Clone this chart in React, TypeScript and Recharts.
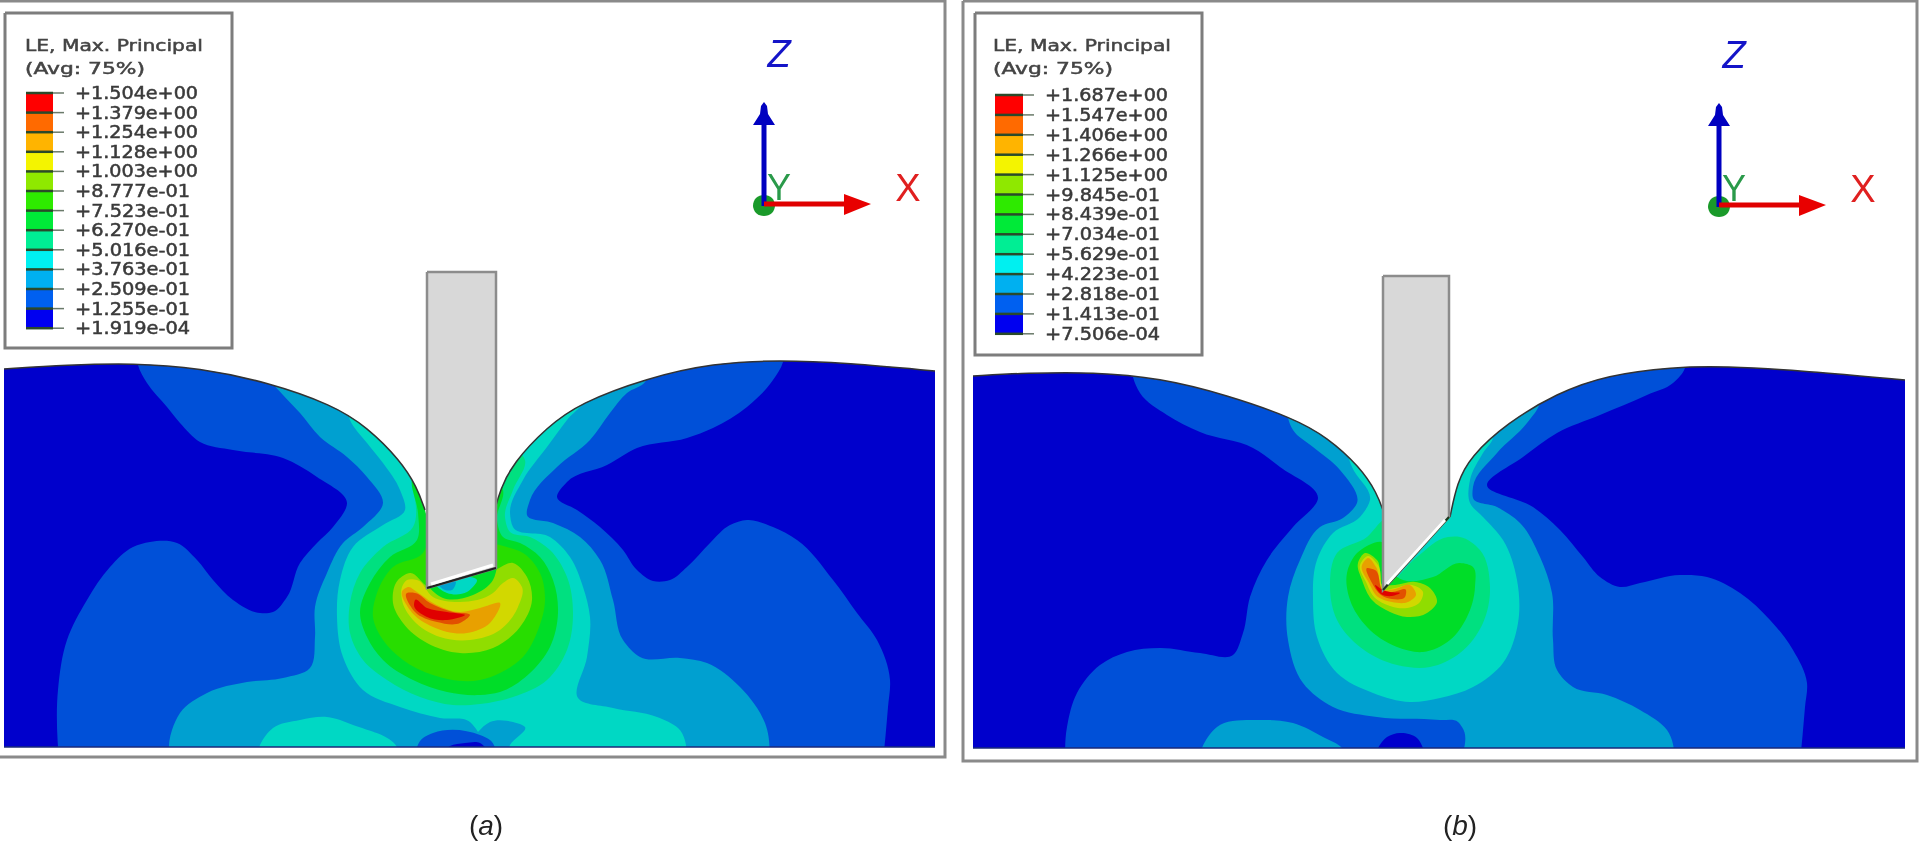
import React from "react";
import { ScatterChart, Scatter, XAxis, YAxis } from "recharts";

type Pt = number[];

// contour colours, lowest to highest strain
const C1 = "#0050d8";
const C2 = "#00a0d0";
const C3 = "#00d8c4";
const C4 = "#00e080";
const C5 = "#00dd28";
const C6 = "#28dd00";
const C7 = "#90dd00";
const C8 = "#d2d800";
const C9 = "#e8a000";
const C10 = "#e25000";
const C11 = "#e00000";
const BASE = "#0000cc";

const legendColors = ["#ff0000", "#ff6a00", "#ffb400", "#f4f400", "#8fe800", "#2eea00", "#00ea38", "#00ee94", "#00f0f0", "#00b0f0", "#0060f0", "#0000f0"];
const legendValuesA = ["+1.504e+00", "+1.379e+00", "+1.254e+00", "+1.128e+00", "+1.003e+00", "+8.777e-01", "+7.523e-01", "+6.270e-01", "+5.016e-01", "+3.763e-01", "+2.509e-01", "+1.255e-01", "+1.919e-04"];
const legendValuesB = ["+1.687e+00", "+1.547e+00", "+1.406e+00", "+1.266e+00", "+1.125e+00", "+9.845e-01", "+8.439e-01", "+7.034e-01", "+5.629e-01", "+4.223e-01", "+2.818e-01", "+1.413e-01", "+7.506e-04"];

// repeated point keeps a sharp corner in a basis curve
const c = (x: number, y: number): Pt[] => [[x, y], [x, y], [x, y]];

// ---- panel (a) ----
const surfaceLeftA: Pt[] = [[4, 369], [4, 369], [67, 365], [133, 363], [200, 368], [267, 382], [333, 405], [367, 427], [400, 460], [417, 487], [425, 510], [425, 510]];
const surfaceRightA: Pt[] = [[494, 513], [494, 513], [500, 490], [513, 463], [547, 427], [580, 403], [647, 378], [713, 363], [780, 360], [847, 363], [935, 371], [935, 371]];

const a1: Pt[] = [[138, 340], [138, 365], [147, 383], [167, 407], [180, 423], [200, 442], [233, 450], [283, 458], [317, 477], [347, 503], [333, 527], [317, 543], [300, 563], [287, 597], [273, 612], [260, 613], [233, 600], [213, 580], [197, 560], [177, 543], [150, 542], [133, 547], [110, 567], [87, 600], [67, 640], [58, 690], [63, 790], [878, 790], [888, 707], [890, 680], [877, 640], [857, 613], [833, 580], [797, 540], [773, 527], [747, 520], [730, 525], [710, 543], [687, 567], [670, 580], [653, 581], [637, 570], [623, 550], [600, 527], [577, 510], [557, 497], [567, 482], [607, 465], [637, 448], [687, 438], [713, 428], [747, 407], [773, 380], [783, 362], [783, 340]];
const a2: Pt[] = [[273, 350], [273, 383], [283, 395], [300, 413], [320, 437], [347, 457], [367, 477], [383, 503], [363, 527], [343, 543], [327, 573], [315, 607], [315, 637], [310, 668], [283, 678], [247, 682], [207, 693], [180, 713], [172, 730], [172, 790], [767, 790], [765, 723], [740, 687], [707, 663], [680, 658], [640, 657], [623, 640], [613, 600], [600, 560], [580, 537], [553, 523], [527, 515], [530, 500], [557, 467], [590, 440], [610, 413], [627, 393], [645, 382], [645, 350]];
const a3: Pt[] = [[345, 400], [350, 420], [367, 443], [383, 463], [400, 490], [405, 510], [383, 525], [353, 547], [340, 580], [337, 617], [343, 657], [363, 690], [400, 707], [440, 718], [470, 722], [478, 732], [470, 790], [683, 790], [678, 728], [657, 717], [613, 708], [578, 698], [587, 657], [590, 617], [583, 587], [570, 557], [550, 537], [513, 527], [510, 513], [523, 480], [547, 447], [567, 420], [590, 393], [590, 370]];
const a3Island: Pt[] = [[260, 790], [260, 745], [273, 728], [300, 720], [327, 717], [353, 725], [397, 747], [397, 790]];
const a4: Pt[] = [[400, 450], [413, 487], [413, 527], [383, 547], [360, 573], [350, 603], [350, 633], [363, 660], [387, 680], [420, 697], [453, 705], [480, 704], [513, 697], [547, 680], [567, 650], [573, 613], [567, 577], [550, 550], [530, 537], [510, 532], [505, 517], [513, 490], [525, 460], [500, 440]];
const a5: Pt[] = [[412, 480], [418, 513], [417, 540], [390, 557], [370, 583], [360, 613], [367, 637], [383, 660], [413, 680], [447, 692], [480, 695], [500, 692], [530, 673], [550, 647], [558, 613], [553, 580], [540, 557], [520, 543], [503, 537], [497, 520], [503, 490], [490, 470]];
const a6: Pt[] = [[423, 553], [393, 567], [377, 593], [373, 617], [383, 640], [403, 660], [433, 675], [480, 680], [500, 673], [523, 657], [538, 630], [545, 600], [540, 573], [523, 553], [507, 547], [470, 540], [430, 540]];
const a7: Pt[] = [[398, 580], [393, 603], [403, 623], [427, 643], [460, 653], [493, 648], [520, 627], [532, 600], [527, 577], [513, 563], [495, 570], [428, 587], [410, 573]];
const a8: Pt[] = [[402, 587], [402, 600], [413, 620], [440, 637], [470, 640], [500, 630], [518, 607], [522, 587], [513, 578], [503, 583], [493, 593], [460, 602], [433, 597], [417, 580], [407, 580]];
const a9: Pt[] = [[403, 590], [410, 610], [433, 627], [467, 633], [490, 623], [500, 603], [480, 608], [460, 612], [433, 603], [417, 592], [408, 587]];
const a10: Pt[] = [[407, 593], [415, 612], [437, 622], [460, 623], [470, 615], [453, 612], [430, 603], [415, 593]];
const a11: Pt[] = [[414, 605], [427, 617], [447, 620], [465, 615], [447, 612], [427, 608], [415, 600]];
const aTip5: Pt[] = [[428, 586], [443, 598], [473, 595], [493, 580], [497, 566]];
const aTip3: Pt[] = [[436, 585], [447, 593], [467, 592], [477, 580], [460, 576]];
const aTip2: Pt[] = [[438, 584], [445, 590], [452, 590], [456, 582]];
const aIsle2: Pt[] = [[478, 732], [490, 722], [513, 722], [525, 727], [510, 745], [507, 790], [470, 790]];
const aIsle1: Pt[] = [[423, 790], [423, 738], [433, 733], [480, 735], [490, 740], [487, 790]];
const aIsle0: Pt[] = [[443, 790], [450, 746], [465, 743], [480, 743], [485, 747], [485, 790]];
const indenterA: Pt[] = [[427, 272], [496, 272], [496, 568], [427, 588]];

// ---- panel (b) ----
const surfaceLeftB: Pt[] = [[973, 376], [973, 376], [1027, 373], [1093, 372], [1160, 378], [1227, 395], [1293, 418], [1327, 437], [1360, 467], [1377, 493], [1384, 513], [1384, 513]];
const surfaceRightB: Pt[] = [[1450, 517], [1450, 517], [1457, 483], [1470, 457], [1507, 423], [1557, 393], [1607, 375], [1673, 367], [1723, 366], [1807, 371], [1905, 380], [1905, 380]];

const b1: Pt[] = [[1133, 350], [1133, 377], [1140, 393], [1167, 415], [1200, 432], [1253, 448], [1280, 467], [1318, 498], [1293, 527], [1267, 560], [1250, 597], [1243, 633], [1233, 655], [1200, 653], [1160, 648], [1127, 652], [1100, 665], [1077, 693], [1067, 727], [1068, 790], [1795, 790], [1805, 707], [1807, 683], [1793, 650], [1770, 620], [1740, 593], [1707, 577], [1680, 575], [1640, 583], [1620, 587], [1600, 577], [1583, 557], [1560, 530], [1533, 507], [1487, 485], [1523, 457], [1557, 433], [1600, 415], [1647, 395], [1673, 383], [1685, 368], [1685, 350]];
const b2: Pt[] = [[1288, 400], [1288, 418], [1293, 430], [1313, 447], [1340, 470], [1357, 503], [1343, 518], [1320, 527], [1300, 560], [1288, 597], [1288, 640], [1303, 683], [1333, 707], [1377, 717], [1440, 720], [1458, 722], [1462, 727], [1453, 790], [1672, 790], [1667, 730], [1640, 710], [1607, 695], [1573, 687], [1557, 670], [1553, 640], [1552, 593], [1540, 557], [1520, 523], [1497, 507], [1473, 498], [1473, 487], [1497, 453], [1527, 423], [1540, 403], [1540, 380]];
const b2Island: Pt[] = [[1202, 790], [1202, 748], [1217, 727], [1260, 720], [1293, 723], [1323, 737], [1342, 748], [1342, 790]];
const bIsle0: Pt[] = [[1378, 790], [1378, 748], [1387, 737], [1400, 733], [1417, 738], [1423, 748], [1423, 790]];
const b3: Pt[] = [[1345, 445], [1352, 467], [1370, 500], [1360, 517], [1333, 533], [1317, 560], [1313, 600], [1317, 637], [1337, 673], [1373, 693], [1410, 702], [1440, 698], [1473, 687], [1503, 663], [1518, 623], [1517, 580], [1503, 540], [1483, 517], [1470, 503], [1470, 480], [1483, 453], [1493, 437], [1480, 420]];
const b4: Pt[] = [[1367, 537], [1337, 553], [1330, 587], [1337, 620], [1360, 647], [1397, 665], [1430, 667], [1460, 653], [1483, 623], [1490, 587], [1480, 550], [1460, 537], [1448, 537], [1417, 557], [1383, 590], [1383, 520]];
const b5: Pt[] = [[1357, 553], [1347, 573], [1350, 600], [1367, 627], [1397, 647], [1423, 652], [1450, 640], [1467, 617], [1475, 587], [1473, 567], [1460, 563], [1433, 577], [1403, 580], [1383, 560], [1383, 543]];
const b6: Pt[] = [[1358, 563], [1362, 580], [1372, 600], [1390, 612], [1407, 617], [1427, 613], [1437, 602], [1430, 588], [1415, 582], [1395, 585], [1383, 585], [1377, 560], [1365, 553]];
const b7: Pt[] = [[1360, 565], [1366, 582], [1375, 598], [1390, 606], [1407, 608], [1420, 602], [1423, 592], [1412, 585], [1395, 588], [1385, 590], [1378, 565], [1368, 556]];
const b8: Pt[] = [[1362, 565], [1369, 583], [1378, 597], [1392, 602], [1408, 602], [1416, 595], [1410, 585], [1395, 589], [1384, 590], [1376, 567], [1368, 558]];
const b9: Pt[] = [[1367, 568], [1372, 583], [1381, 595], [1392, 599], [1405, 597], [1406, 590], [1392, 592], [1384, 591], [1375, 570]];
const b10: Pt[] = [[1375, 585], [1381, 594], [1392, 596], [1400, 593], [1390, 592], [1383, 590]];
const indenterB: Pt[] = [[1383, 276], [1449, 276], [1449, 517], [1383, 590]];

// triad anchors: origin of each axes symbol
const triadOrigins: Pt[] = [[764, 204], [1719, 205]];

const W = 1929;
const H = 842;

const toData = (pts: Pt[]) => pts.map(([x, y]) => ({ x, y }));
const box = (x1: number, y1: number, x2: number, y2: number): Pt[] => [[x1, y1], [x2, y1], [x2, y2], [x1, y2]];
const noMark = () => <g />;

// closed curve through every traced point (d3-shape curve protocol, Curve takes it as its type).
// Tangents are chord weighted and handles capped so long hidden edges do not bulge.
const contourCurve = (ctx: any) => {
  let pts: Pt[] = [];
  const tangent = (a: Pt, b: Pt, d: Pt) => {
    const d1 = Math.hypot(b[0] - a[0], b[1] - a[1]) || 1;
    const d2 = Math.hypot(d[0] - b[0], d[1] - b[1]) || 1;
    return [0, 1].map((k) => (((b[k] - a[k]) / d1) * d2 + ((d[k] - b[k]) / d2) * d1) / (d1 + d2));
  };
  return {
    areaStart() {},
    areaEnd() {},
    lineStart() {
      pts = [];
    },
    point(x: number, y: number) {
      pts.push([x, y]);
    },
    lineEnd() {
      const n = pts.length;
      if (!n) return;
      ctx.moveTo(pts[0][0], pts[0][1]);
      for (let i = 0; i < n; i++) {
        const p0 = pts[(i - 1 + n) % n];
        const p1 = pts[i];
        const p2 = pts[(i + 1) % n];
        const p3 = pts[(i + 2) % n];
        const len = Math.min(Math.hypot(p2[0] - p1[0], p2[1] - p1[1]) / 3, 30);
        const t1 = tangent(p0, p1, p2);
        const t2 = tangent(p1, p2, p3);
        ctx.bezierCurveTo(p1[0] + t1[0] * len, p1[1] + t1[1] * len, p2[0] - t2[0] * len, p2[1] - t2[1] * len, p2[0], p2[1]);
      }
      ctx.closePath();
    },
  };
};

let uid = 0;
const rawFill = (pts: Pt[], fill: string, curve: any) => (
  <Scatter
    key={`f${uid++}`}
    data={toData(pts)}
    shape={noMark}
    line={{ fill, stroke: "none" } as any}
    lineJointType={curve}
    isAnimationActive={false}
  />
);
const fillShape = (pts: Pt[], fill: string) => rawFill(pts, fill, contourCurve);
const fillPoly = (pts: Pt[], fill: string) => rawFill(pts, fill, "linearClosed");
const strokeShape = (pts: Pt[], stroke: string, strokeWidth: number, curve = "linear") => (
  <Scatter
    key={`s${uid++}`}
    data={toData(pts)}
    shape={noMark}
    line={{ fill: "none", stroke, strokeWidth } as any}
    lineJointType={curve as any}
    isAnimationActive={false}
  />
);

type TextRow = { x: number; y: number; text: string; len?: number; size: number; color: string; family?: string; italic?: boolean; anchor?: string; heavy?: number; caption?: boolean };
const textLayer = (rows: TextRow[]) => (
  <Scatter
    key={`t${uid++}`}
    data={rows}
    isAnimationActive={false}
    shape={(p: any) => {
      const r: TextRow = p.payload;
      return (
        <text
          x={p.cx}
          y={p.cy}
          fontSize={r.size}
          fontFamily={r.family || "DejaVu Sans"}
          fontStyle={r.italic ? "italic" : "normal"}
          fill={r.color}
          stroke={r.heavy ? r.color : "none"}
          strokeWidth={r.heavy || 0}
          textAnchor={(r.anchor || "start") as any}
          dominantBaseline="central"
          textLength={r.len}
          lengthAdjust={r.len ? "spacingAndGlyphs" : undefined}
        >
          {r.caption ? (
            <>
              (<tspan fontStyle="italic">{r.text}</tspan>)
            </>
          ) : (
            r.text
          )}
        </text>
      );
    }}
  />
);

const legend = (left: number, top: number, right: number, bottom: number, barL: number, barR: number, barT: number, step: number, textX: number, values: string[], headX: number) => {
  const items: React.ReactNode[] = [];
  items.push(fillPoly(box(left, top, right, bottom), "#ffffff"));
  items.push(strokeShape([...box(left, top, right, bottom), [left, top]], "#7d7d7d", 3));
  legendColors.forEach((col, i) => {
    items.push(fillPoly(box(barL, barT + i * step, barR, barT + (i + 1) * step), col));
  });
  values.forEach((_, i) => {
    items.push(strokeShape([[barL, barT + i * step], [barR, barT + i * step]], "#2a4a2a", 2.5));
    items.push(strokeShape([[barR, barT + i * step], [barR + 11, barT + i * step]], "#6a7a6a", 1.5));
  });
  items.push(
    textLayer([
      { x: headX, y: 45, text: "LE, Max. Principal", len: 178, size: 16, color: "#444", heavy: 0.5 },
      { x: headX, y: 68, text: "(Avg: 75%)", len: 120, size: 16, color: "#444", heavy: 0.5 },
      ...values.map((v, i) => ({ x: textX, y: barT + i * step, text: v, len: v.includes("+00") ? 123 : 115, size: 17, color: "#3a3a3a", heavy: 0.5 })),
    ])
  );
  return items;
};

const triad = ([ox, oy]: Pt) => [
  fillShape([[ox, oy - 9], [ox + 8, oy - 6], [ox + 11, oy + 2], [ox + 8, oy + 9], [ox, oy + 12], [ox - 8, oy + 9], [ox - 11, oy + 2], [ox - 8, oy - 6]], "#1a9a2a"),
  strokeShape([[ox + 15, oy - 4], [ox + 15, oy - 15]], "#2a9a4a", 2),
  strokeShape([[ox, oy + 2], [ox, oy - 85]], "#0000c0", 5),
  fillPoly([[ox, oy - 102], [ox + 3, oy - 98], [ox + 4, oy - 90], [ox + 11, oy - 79], [ox - 11, oy - 79], [ox - 4, oy - 90], [ox - 3, oy - 98]], "#0000c0"),
  strokeShape([[ox, oy], [ox + 85, oy]], "#e00000", 5),
  fillPoly([[ox + 80, oy - 10], [ox + 107, oy], [ox + 80, oy + 11]], "#e80000"),
  textLayer([
    { x: ox + 15, y: oy - 150, text: "Z", size: 38, color: "#1414c8", family: "Liberation Sans", italic: true, anchor: "middle" },
    { x: ox + 15, y: oy - 17, text: "Y", size: 36, color: "#2a9a4a", family: "Liberation Sans", anchor: "middle" },
    { x: ox + 144, y: oy - 16, text: "X", size: 38, color: "#e02020", family: "Liberation Sans", anchor: "middle" },
  ]),
];

const App = () => {
  uid = 0;
  return (
    <div style={{ position: "absolute", left: 0, top: 0, width: W, height: H, background: "#fff", filter: "blur(0.7px)", overflow: "hidden" }}>
      <ScatterChart width={W} height={H} margin={{ top: 0, right: 0, bottom: 0, left: 0 }}>
        <XAxis type="number" dataKey="x" domain={[0, W]} hide allowDataOverflow />
        <YAxis type="number" dataKey="y" domain={[0, H]} reversed hide allowDataOverflow />

        {/* panel a contours, painted low to high */}
        {fillPoly(box(4, 340, 935, 750), BASE)}
        {fillShape(a1, C1)}
        {fillShape(a2, C2)}
        {fillShape(a3Island, C3)}
        {fillShape(a3, C3)}
        {fillShape(a4, C4)}
        {fillShape(a5, C5)}
        {fillShape(a6, C6)}
        {fillShape(a7, C7)}
        {fillShape(a8, C8)}
        {fillShape(a9, C9)}
        {fillShape(a10, C10)}
        {fillShape(a11, C11)}
        {fillShape(aTip5, C5)}
        {fillShape(aTip3, C3)}
        {fillShape(aTip2, C2)}
        {fillShape(aIsle2, C2)}
        {fillShape(aIsle1, C1)}
        {fillShape(aIsle0, BASE)}
        {/* white above the deformed surface and under the model */}
        {rawFill([...c(0, 250), ...c(0, 369), ...surfaceLeftA, ...c(430, 530), ...c(490, 530), ...surfaceRightA, ...c(940, 371), ...c(940, 250)], "#ffffff", "basisClosed")}
        {fillPoly(box(0, 747, 960, 842), "#ffffff")}
        {strokeShape(surfaceLeftA, "#333", 1.5, "basis")}
        {strokeShape(surfaceRightA, "#333", 1.5, "basis")}
        {strokeShape([[4, 747], [935, 747]], "#1a2a7a", 1.5)}
        {fillPoly(indenterA, "#d8d8d8")}
        {strokeShape([...indenterA, indenterA[0]], "#8c8c8c", 2.5)}
        {strokeShape([indenterA[2], indenterA[3]], "#222", 2)}
        {strokeShape([[431, 584], [493, 565]], "#ffffff", 3)}

        {/* panel b */}
        {fillPoly(box(973, 350, 1905, 750), BASE)}
        {fillShape(b1, C1)}
        {fillShape(b2Island, C2)}
        {fillShape(b2, C2)}
        {fillShape(bIsle0, BASE)}
        {fillShape(b3, C3)}
        {fillShape(b4, C4)}
        {fillShape(b5, C5)}
        {fillShape(b6, C7)}
        {fillShape(b7, C8)}
        {fillShape(b8, C9)}
        {fillShape(b9, C10)}
        {fillShape(b10, C11)}
        {rawFill([...c(968, 250), ...c(968, 376), ...surfaceLeftB, ...c(1390, 520), ...c(1440, 520), ...surfaceRightB, ...c(1910, 380), ...c(1910, 250)], "#ffffff", "basisClosed")}
        {fillPoly(box(960, 748, 1929, 842), "#ffffff")}
        {strokeShape(surfaceLeftB, "#333", 1.5, "basis")}
        {strokeShape(surfaceRightB, "#333", 1.5, "basis")}
        {strokeShape([[973, 748], [1905, 748]], "#1a2a7a", 1.5)}
        {fillPoly(indenterB, "#d8d8d8")}
        {strokeShape([...indenterB, indenterB[0]], "#8c8c8c", 2.5)}
        {strokeShape([indenterB[2], indenterB[3]], "#1c3a1c", 2)}
        {strokeShape([[1387, 584], [1445, 520]], "#ffffff", 3)}

        {/* frames */}
        {strokeShape([...box(-5, 1, 945, 757), [-5, 1]], "#8a8a8a", 3)}
        {strokeShape([...box(963, 1, 1917, 761), [963, 1]], "#8a8a8a", 3)}

        {legend(5, 13, 232, 348, 26, 53, 93, 19.6, 75, legendValuesA, 25)}
        {legend(975, 13, 1202, 355, 995, 1023, 95, 19.9, 1045, legendValuesB, 993)}
        {triadOrigins.map(triad)}

        {textLayer([
          { x: 486, y: 825, text: "a", size: 28, color: "#222", family: "Liberation Sans", anchor: "middle", caption: true },
          { x: 1460, y: 825, text: "b", size: 28, color: "#222", family: "Liberation Sans", anchor: "middle", caption: true },
        ])}
      </ScatterChart>
    </div>
  );
};

export default App;
